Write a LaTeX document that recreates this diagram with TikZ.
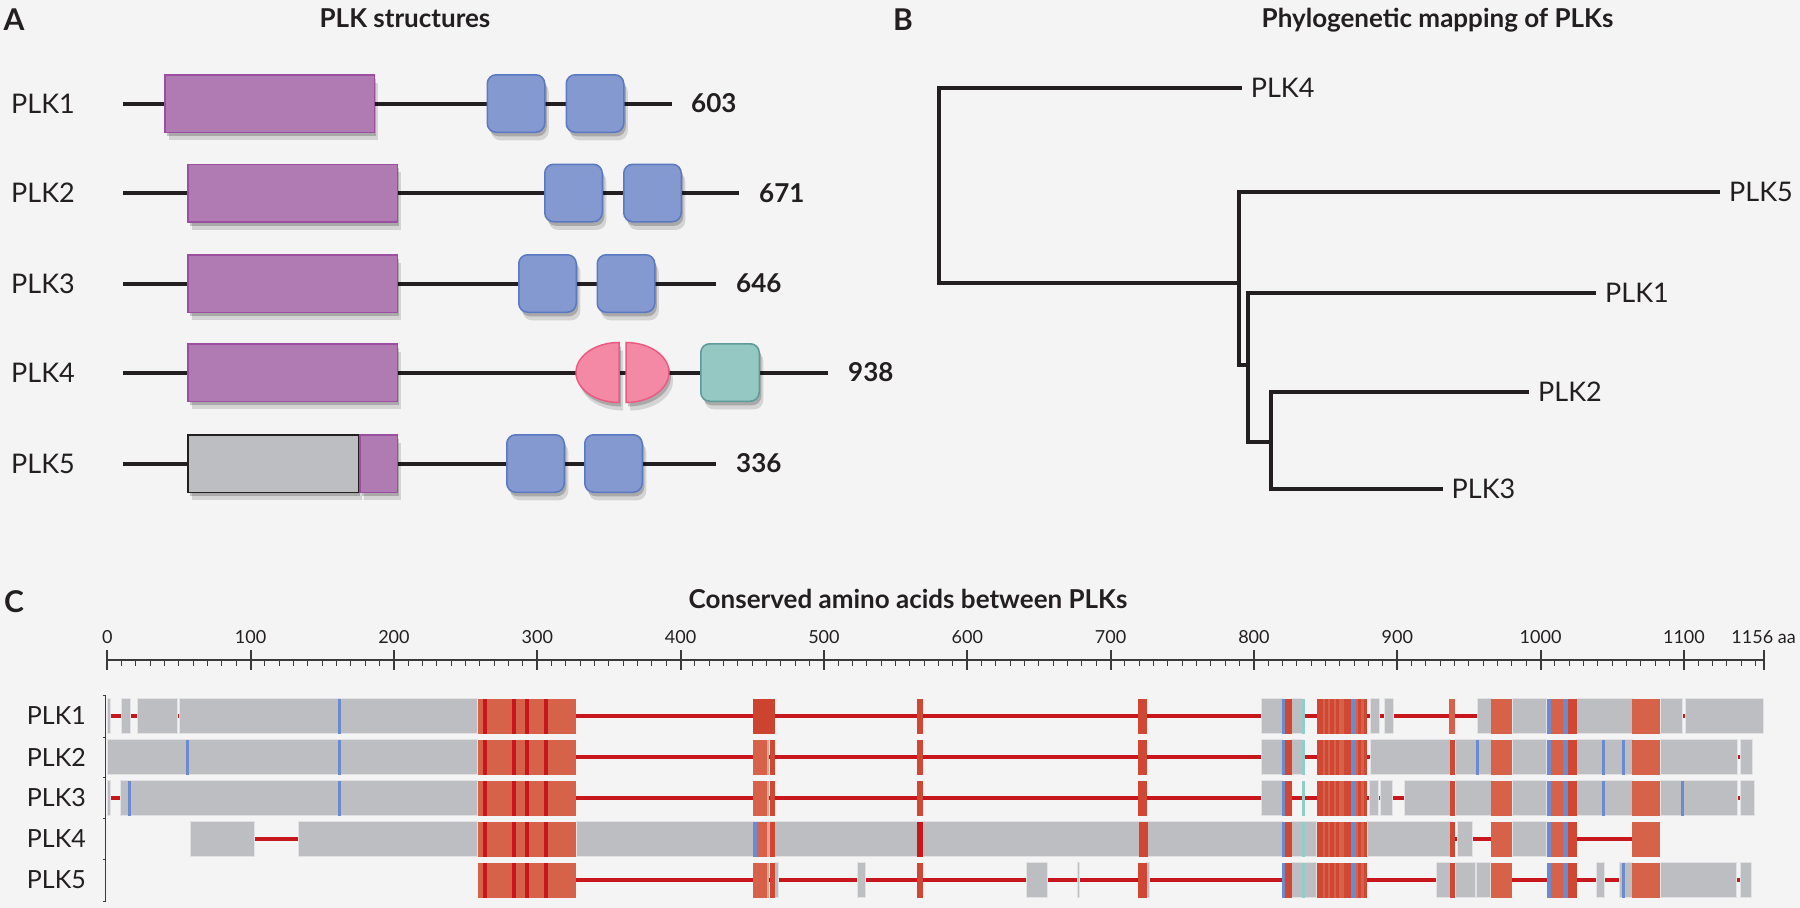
\documentclass[tikz,border=0pt]{standalone}
\usepackage{fontspec}
\setmainfont{Lato}
\usepackage{xcolor}
\usetikzlibrary{positioning,shadows}

\definecolor{bgcol}{HTML}{F4F4F4}
\definecolor{ink}{HTML}{231F20}
\definecolor{kinF}{HTML}{B07AB3}
\definecolor{kinD}{HTML}{9C4FA0}
\definecolor{poloF}{HTML}{8399CF}
\definecolor{poloD}{HTML}{5B79C3}
\definecolor{crF}{HTML}{F389A5}
\definecolor{crD}{HTML}{EC5A82}
\definecolor{pbF}{HTML}{95C7C3}
\definecolor{pbD}{HTML}{5E9A98}
\definecolor{greyF}{HTML}{BCBEC1}
\definecolor{alnGrey}{HTML}{BCBEC1}
\definecolor{alnEdge}{HTML}{E2E2E4}
\definecolor{alnOrange}{HTML}{D6624A}
\definecolor{alnRust}{HTML}{D04733}
\definecolor{alnDeep}{HTML}{CC4330}
\definecolor{alnRed}{HTML}{C8161D}
\definecolor{alnBlue}{HTML}{6B8BCF}
\definecolor{alnTeal}{HTML}{8FCFC8}
\definecolor{alnPale}{HTML}{E9A08F}
\definecolor{axcol}{HTML}{3A3A3A}

\begin{document}
\begin{tikzpicture}[x=1pt, y=-1pt,
  letter/.style={font=\fontsize{30}{32}\selectfont\bfseries, text=ink, inner sep=0, anchor=base},
  ttl/.style={font=\fontsize{26}{30}\selectfont\bfseries, text=ink, inner sep=0, anchor=base},
  plk/.style={font=\fontsize{27}{30}\selectfont, text=ink, inner sep=0},
  len/.style={font=\fontsize{26}{30}\selectfont\bfseries, text=ink, inner sep=0, anchor=west},
  axlab/.style={font=\fontsize{18}{22}\selectfont, text=ink, inner sep=0, anchor=base},
  backbone/.style={draw=ink, line width=4pt},
  boxshadow/.style={drop shadow={shadow xshift=2pt, shadow yshift=-4pt, opacity=.2, fill=black},
                    drop shadow={shadow xshift=4pt, shadow yshift=-8pt, opacity=.13, fill=black}},
  dom/.style={line width=1.5pt, inner sep=0, minimum height=57.5pt, boxshadow},
  kinase/.style={dom, draw=kinD, fill=kinF},
  polo/.style={dom, draw=poloD, fill=poloF, rounded corners=9pt, minimum width=57.5pt},
  cryptic/.style={line width=1.5pt, draw=crD, fill=crF, boxshadow},
  pbthree/.style={dom, draw=pbD, fill=pbF, rounded corners=9pt, minimum width=58.5pt},
  branch/.style={draw=ink, line width=3.5pt},
  brk/.style={draw=axcol, line width=1pt},
  gbar/.style={fill=alnGrey, draw=alnEdge, line width=.8pt},
  rline/.style={draw=alnRed, line width=3.5pt}
]
\useasboundingbox (0,0) rectangle (1800,908);
\fill[bgcol] (0,0) rectangle (1800,908);

% panel A: domain structures
\node[letter] (la) at (14,30) {A};
\node[ttl] (ta) at (405,27) {PLK structures};
\foreach \r/\y/\e/\lng/\nx in {1/103.5/672/603/691, 2/193/739/671/759, 3/283.5/716/646/736,
                              4/372.5/828/938/848, 5/463.5/716/336/736} {
  \node[plk, anchor=east] (p\r) at (75,\y) {PLK\r};
  \coordinate (s\r) at (123,\y);
  \coordinate (e\r) at (\e,\y);
  \draw[backbone] (s\r) -- (e\r);
  \node[len] (n\r) at (\nx,\y) {\lng};
}
\node[kinase, minimum width=209.5pt] (k1) at (269.5,103.5) {};
\foreach \r/\y in {2/193, 3/283.5, 4/372.5}
  \node[kinase, minimum width=209.5pt] (k\r) at (292.5,\y) {};
\node[dom, draw=ink, fill=greyF, minimum width=170.5pt] (g5) at (273,463.5) {};
\node[kinase, minimum width=37.5pt] (k5) at (378.5,463.5) {};
\foreach \r/\y/\xa/\xb in {1/103.5/516/595, 2/193/573.5/652.5, 3/283.5/547.5/626, 5/463.5/535.5/613.5} {
  \node[polo] (pa\r) at (\xa,\y) {};
  \node[polo] (pb\r) at (\xb,\y) {};
}
\draw[cryptic] (619,342.5) arc[start angle=-90, end angle=-270, x radius=43, y radius=30] -- cycle;
\draw[cryptic] (626,342.5) arc[start angle=-90, end angle=90, x radius=43, y radius=30] -- cycle;
\node[pbthree] (pc4) at (730,372.5) {};

% panel B: tree
\node[letter] (lb) at (903,30) {B};
\node[ttl] (tb) at (1437.5,27) {Phylogenetic mapping of PLKs};
\coordinate (root) at (939,283);
\coordinate (n1) at (1239,283);
\coordinate (a1) at (1239,365);
\coordinate (n2) at (1248,365);
\coordinate (a2) at (1248,442);
\coordinate (n3) at (1271,442);
\coordinate (t4) at (1241.6,88);
\coordinate (t5) at (1720,192);
\coordinate (t1) at (1596,293);
\coordinate (t2) at (1529,392);
\coordinate (t3) at (1442.5,489);
\foreach \m in {1,...,5}
  \node[plk, right=9pt of t\m] (leaf\m) {PLK\m};
\draw[branch] (t4) -| (root) -- (n1);
\draw[branch] (t5) -| (a1) -- (n2);
\draw[branch] (t1) -| (a2) -- (n3);
\draw[branch] (t2) -| (n3) |- (t3);

% panel C: conserved residues
\node[letter] (lc) at (14,612) {C};
\node[ttl] (tc) at (908,608) {Conserved amino acids between PLKs};
\foreach \r/\y in {1/716, 2/757, 3/798, 4/839, 5/880}
  \node[plk, anchor=east, font=\fontsize{25}{28}\selectfont] (c\r) at (86,\y) {PLK\r};
\draw[brk] (105.7,695) -- (105.7,901);
\foreach \y in {695,737,777,818,859,901}
  \draw[brk] (102.5,\y) -- (105.7,\y);

\begin{scope}[shift={(107.3,0)}, x=1.4333pt]
% axis
\draw[draw=axcol, line width=2pt] (0,660) -- (1156,660);
\foreach \m in {0,10,...,1150}
  \draw[draw=axcol, line width=1pt] (\m,660) -- (\m,666);
\foreach \m in {0,100,...,1100} {
  \draw[draw=axcol, line width=2pt] (\m,650) -- (\m,670);
  \node[axlab] (ax\m) at (\m,643) {\m};
}
\draw[draw=axcol, line width=2pt] (1156,650) -- (1156,670);
\node[axlab, anchor=base west] (axend) at (1133,643) {1156 aa};

% PLK1
\begin{scope}[shift={(0,716)}]
  \draw[rline] (0,0) -- (1155.5,0);
  \foreach \a/\b in {0/2, 10/16, 20.8/48.8, 50.5/258.4, 805.4/820, 826.3/834, 881/887.5, 891/897.2,
                     955.9/965.6, 980.3/1004.3, 1025.2/1064, 1083.3/1098.9, 1100.8/1155.5}
    \filldraw[gbar] (\a,-17.5) rectangle (\b,17.5);
  \fill[alnDeep] (450.8,-17.5) rectangle (465.7,17.5);
  \foreach \a/\b in {564.7/569.3, 718.9/725.1}
    \fill[alnRust] (\a,-17.5) rectangle (\b,17.5);
  \fill[alnOrange] (936,-17.5) rectangle (940.3,17.5);
  \fill[alnBlue] (160.8,-17.5) rectangle (163,17.5);
\end{scope}

% PLK2
\begin{scope}[shift={(0,757)}]
  \draw[rline] (0,0) -- (1148,0);
  \foreach \a/\b in {0/258.4, 805.4/820, 826.3/834, 881/936.8, 940.3/965.6, 980.3/1004.3,
                     1025.2/1064, 1083.3/1137.3, 1139.2/1148}
    \filldraw[gbar] (\a,-17.5) rectangle (\b,17.5);
  \foreach \a in {56, 162, 956.2, 1044.1, 1058}
    \fill[alnBlue] (\a-1.1,-17.5) rectangle (\a+1.1,17.5);
\end{scope}

% PLK3
\begin{scope}[shift={(0,798)}]
  \draw[rline] (0,0) -- (1149.2,0);
  \foreach \a/\b in {0/2, 8.9/258.4, 805.4/820, 880.5/887, 888.4/896.5, 904.7/936.8, 940.3/965.6,
                     980.3/1004.3, 1025.2/1064, 1083.3/1137, 1139.6/1149.2}
    \filldraw[gbar] (\a,-17.5) rectangle (\b,17.5);
  \foreach \a in {15.4, 162, 1044, 1099}
    \fill[alnBlue] (\a-1.1,-17.5) rectangle (\a+1.1,17.5);
\end{scope}

% PLK4
\begin{scope}[shift={(0,839)}]
  \draw[rline] (102,0) -- (1083,0);
  \foreach \a/\b in {58.2/102.3, 133/258.4, 327/819.6, 826.3/843.8, 879.2/936.8, 942.1/952.4, 980.3/1004.3}
    \filldraw[gbar] (\a,-17.5) rectangle (\b,17.5);
  \fill[alnBlue] (450.8,-17.5) rectangle (453.5,17.5);
  \fill[alnOrange] (453.5,-17.5) rectangle (460.1,17.5);
  \fill[alnPale] (460.1,-17.5) rectangle (461.9,17.5);
  \fill[alnRust] (462.3,-17.5) rectangle (465.7,17.5);
  \fill[alnRed] (564.9,-17.5) rectangle (568.8,17.5);
  \fill[alnRust] (719.8,-17.5) rectangle (726,17.5);
\end{scope}

% PLK5
\begin{scope}[shift={(0,880)}]
  \draw[rline] (258.4,0) -- (1147.3,0);
  \foreach \a/\b in {465.7/468, 523.3/528.6, 641/655.9, 676.8/678, 725.1/727.4, 826.3/843.8, 927/936.8,
                     940.3/954.2, 955.4/964.7, 1039.2/1044.7, 1055/1064, 1083.3/1136.8, 1139.2/1147.3}
    \filldraw[gbar] (\a,-17.5) rectangle (\b,17.5);
  \fill[alnBlue] (1056.5,-17.5) rectangle (1058.7,17.5);
\end{scope}

% blocks shared by PLK2, PLK3, PLK5
\foreach \y in {757, 798, 880} {
  \begin{scope}[shift={(0,\y)}]
    \fill[alnOrange] (450.8,-17.5) rectangle (460.1,17.5);
    \fill[alnPale] (460.1,-17.5) rectangle (461.9,17.5);
    \fill[alnRust] (462.3,-17.5) rectangle (465.7,17.5);
    \foreach \a/\b in {564.7/569.3, 718.9/725.1, 936.8/940.3}
      \fill[alnRust] (\a,-17.5) rectangle (\b,17.5);
  \end{scope}
}
\fill[alnRust] (936.8,821.5) rectangle (940.3,856.5);

% blocks shared by all rows
\foreach \y in {716, 757, 798, 839, 880} {
  \begin{scope}[shift={(0,\y)}]
    \fill[alnOrange] (258.4,-17.5) rectangle (327,17.5);
    \foreach \a in {263.8, 283.8, 293.1, 305.9}
      \fill[alnRed] (\a-1.4,-17.5) rectangle (\a+1.4,17.5);
    \fill[alnBlue] (819.8,-17.5) rectangle (821.8,17.5);
    \fill[alnRust] (821.8,-17.5) rectangle (826.3,17.5);
    \fill[alnTeal] (833.8,-17.5) rectangle (835.6,17.5);
    \fill[alnOrange] (843.8,-17.5) rectangle (879.2,17.5);
    \foreach \a/\b in {843.8/848.5, 849.5/851.5, 853/855.5, 857.5/859, 862.5/867.5, 872.5/875, 876.5/879.2}
      \fill[alnRust] (\a,-17.5) rectangle (\b,17.5);
    \fill[alnBlue] (867.5,-17.5) rectangle (871,17.5);
    \fill[alnOrange] (965.6,-17.5) rectangle (980.3,17.5);
    \fill[alnBlue] (1004.3,-17.5) rectangle (1007.1,17.5);
    \fill[alnOrange] (1007.1,-17.5) rectangle (1015.9,17.5);
    \fill[alnBlue] (1015.9,-17.5) rectangle (1018.9,17.5);
    \fill[alnRust] (1018.9,-17.5) rectangle (1025.2,17.5);
    \fill[alnOrange] (1064,-17.5) rectangle (1083.3,17.5);
  \end{scope}
}
\end{scope}
\end{tikzpicture}
\end{document}
